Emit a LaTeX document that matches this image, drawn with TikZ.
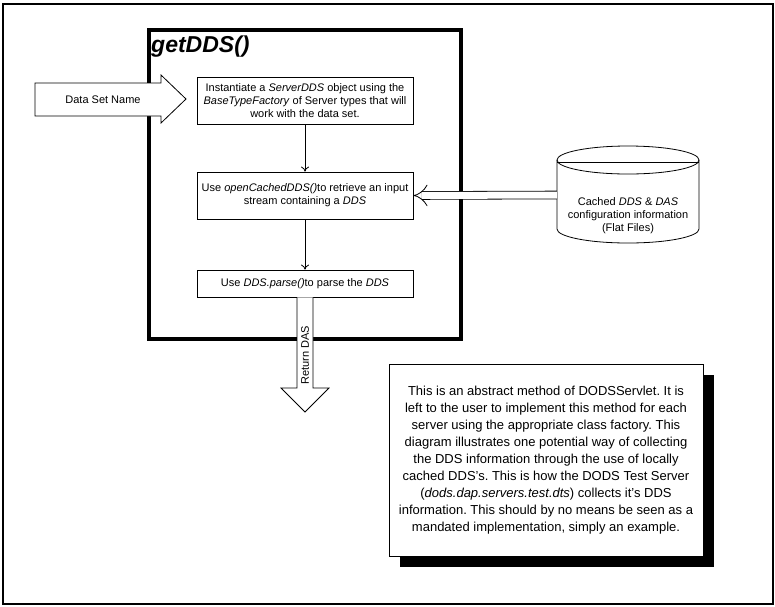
\documentclass[tikz,border=0pt]{standalone}
\usepackage{fontspec}
\setmainfont{Liberation Sans}
\usetikzlibrary{arrows.meta,shadows}
\frenchspacing

\begin{document}
\begin{tikzpicture}[x=1pt,y=-1pt,
    stepbox/.style={draw, line width=0.8pt, minimum width=216pt, inner sep=0pt,
      align=center, font=\fontsize{11}{13}\selectfont},
    flow/.style={line width=0.8pt, -{To[length=5pt,width=8pt]}},
    blockarrow/.style={draw, fill=white, line width=0.8pt, line join=miter}]
  \useasboundingbox (0,0) rectangle (775,606);
  % frames
  \draw[line width=2.5pt] (3,4) rectangle (773,604);
  \draw[line width=4pt] (149,30) rectangle (461,339);
  \node[anchor=base west, inner sep=0pt, font=\fontsize{23}{23}\selectfont\bfseries\itshape] (title) at (151,52) {getDDS()};

  % steps
  \node[stepbox, minimum height=47pt] (inst) at (305,100.5)
    {Instantiate a \textit{ServerDDS} object using the\\
     \textit{BaseTypeFactory} of Server types that will\\
     work with the data set.};
  \node[stepbox, minimum height=47pt] (open) at (305,195.5)
    {Use \textit{openCachedDDS()}to retrieve an input\\
     stream containing a \textit{DDS}};
  \node[stepbox, minimum height=27pt] (parse) at (305,283.5)
    {Use \textit{DDS.parse()}to parse the \textit{DDS}};
  \draw[flow] (inst) -- (open);
  \draw[flow] (open) -- (parse);

  % input and output
  \draw[blockarrow] (35,83) -- (161,83) -- (161,75) -- (186,99) -- (161,123) -- (161,116) -- (35,116) -- cycle;
  \node[font=\fontsize{11}{13}\selectfont] (dsname) at (103,99.5) {Data Set Name};
  \draw[blockarrow] (parse.south -| 297,0) -- (297,388) -- (281,388) -- (305,412) -- (329,388) -- (313,388) -- (parse.south -| 313,0);
  \node[rotate=90, font=\fontsize{11}{13}\selectfont] (ret) at (305,355) {Return DAS};

  % cache
  \draw[line width=0.8pt] (628,160) ellipse [x radius=71pt, y radius=14pt];
  \draw[line width=0.8pt] (557,162) -- (699,162);
  \draw[line width=0.8pt] (557,160) -- (557,229) arc[start angle=180, end angle=360, x radius=71pt, y radius=14pt] -- (699,160);
  \node[align=center, font=\fontsize{11}{13}\selectfont] (cache) at (628,216)
    {Cached \textit{DDS} \& \textit{DAS}\\ configuration information\\ (Flat Files)};
  \coordinate (cacheport) at (557,195);
  \draw[line width=0.8pt, double distance=7pt, -{Implies}] (cacheport) -- (open.east);

  % note
  \node[draw, fill=white, line width=0.8pt, minimum width=314pt, minimum height=192pt,
    align=center, font=\fontsize{13}{17}\selectfont,
    drop shadow={shadow xshift=11pt, shadow yshift=-11pt, opacity=1, fill=black}] (note) at (546,460)
    {This is an abstract method of DODSServlet. It is\\
     left to the user to implement this method for each\\
     server using the appropriate class factory. This\\
     diagram illustrates one potential way of collecting\\
     the DDS information through the use of locally\\
     cached DDS's. This is how the DODS Test Server\\
     (\textit{dods.dap.servers.test.dts}) collects it's DDS\\
     information. This should by no means be seen as a\\
     mandated implementation, simply an example.};
\end{tikzpicture}
\end{document}
